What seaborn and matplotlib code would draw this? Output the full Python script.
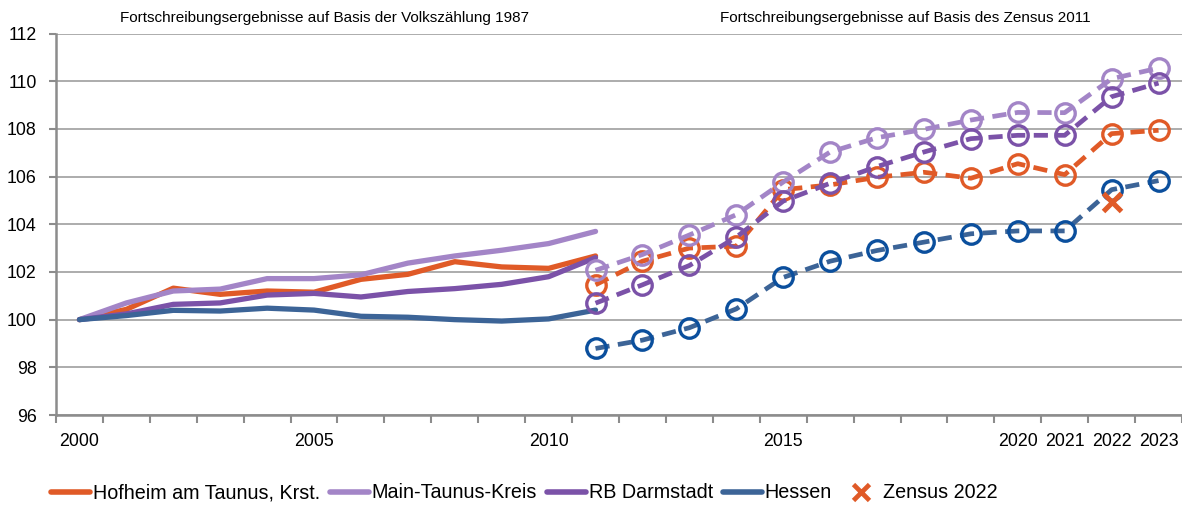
import numpy as np
import pandas as pd
import matplotlib
matplotlib.use("Agg")
import matplotlib.pyplot as plt
import seaborn as sns
from matplotlib.lines import Line2D

### Daten (Index 2000 = 100)
jahre_alt = list(range(2000, 2012))   # Basis Volkszählung 1987
jahre_neu = list(range(2011, 2024))   # Basis Zensus 2011

hofheim_alt = [100.0, 100.43, 101.32, 101.06, 101.2, 101.15, 101.69, 101.9, 102.43, 102.21, 102.15, 102.67]
mtk_alt = [100.0, 100.7, 101.2, 101.28, 101.72, 101.72, 101.88, 102.37, 102.67, 102.91, 103.19, 103.7]
rb_alt = [100.0, 100.24, 100.64, 100.7, 101.03, 101.1, 100.95, 101.18, 101.3, 101.48, 101.8, 102.6]
hessen_alt = [100.0, 100.17, 100.39, 100.36, 100.48, 100.4, 100.14, 100.1, 100.0, 99.94, 100.03, 100.4]

hofheim_neu = [101.46, 102.45, 103.0, 103.08, 105.45, 105.65, 105.97, 106.18, 105.93, 106.54, 106.08, 107.8, 107.94]
mtk_neu = [102.07, 102.73, 103.55, 104.4, 105.77, 107.03, 107.63, 107.98, 108.37, 108.69, 108.68, 110.1, 110.55]
rb_neu = [100.69, 101.46, 102.27, 103.46, 104.97, 105.72, 106.42, 107.03, 107.59, 107.73, 107.73, 109.35, 109.92]
hessen_neu = [98.79, 99.14, 99.66, 100.45, 101.77, 102.45, 102.9, 103.25, 103.6, 103.72, 103.72, 105.45, 105.83]

zensus_jahr = [2022]
zensus_wert = [104.92]

namen = ["Hofheim am Taunus, Krst.", "Main-Taunus-Kreis", "RB Darmstadt", "Hessen"]
farben = ["#E05A27", "#A385C7", "#7B52A8", "#3C6497"]
farben_marker = ["#E05A27", "#A385C7", "#7B52A8", "#0B4F9D"]
x_labels = {2000: "2000", 2005: "2005", 2010: "2010", 2015: "2015",
            2020: "2020", 2021: "2021", 2022: "2022", 2023: "2023"}

### Stil
sns.set_theme(style = "white")
plt.rcParams["font.family"] = ["Liberation Sans", "DejaVu Sans"]
plt.rcParams["text.color"] = "black"
grau = "#8C8C8C"

fig = plt.figure(figsize = (11.82, 5.07), dpi = 100)
ax = fig.add_axes([56 / 1182, 1 - 415 / 507, 1 - 56 / 1182, (415 - 33.5) / 507])

reihen_alt = [hofheim_alt, mtk_alt, rb_alt, hessen_alt]
reihen_neu = [hofheim_neu, mtk_neu, rb_neu, hessen_neu]

# durchgezogene Linien (Volkszählung 1987)
for werte, farbe in zip(reihen_alt, farben):
    df = pd.DataFrame({"pos": np.array(jahre_alt) - 2000, "wert": werte})
    sns.lineplot(data = df, x = "pos", y = "wert", ax = ax, color = farbe, lw = 3.8,
                 solid_capstyle = "round", solid_joinstyle = "round", errorbar = None)

# gestrichelte Linien mit Kreisen (Zensus 2011)
for werte, farbe, mfarbe in zip(reihen_neu, farben, farben_marker):
    df = pd.DataFrame({"pos": np.array(jahre_neu) - 2000, "wert": werte})
    sns.lineplot(data = df, x = "pos", y = "wert", ax = ax, color = farbe, lw = 3.4,
                 linestyle = (0, (3.0, 1.8)), marker = "o", markersize = 14,
                 markerfacecolor = "none", markeredgecolor = mfarbe, markeredgewidth = 2.4,
                 errorbar = None)

# Zensus 2022
ax.plot(np.array(zensus_jahr) - 2000, zensus_wert, ls = "none", marker = "x", markersize = 13,
        markeredgewidth = 3.6, color = "#E05A27", zorder = 5)

### Achsen
ax.set_xlim(-0.5, 23.5)
ax.set_ylim(96, 112)
ax.set_yticks(range(96, 113, 2))
ax.set_xticks([j - 2000 for j in x_labels])
ax.set_xticklabels(list(x_labels.values()))
ax.set_xticks(np.arange(-0.5, 24, 1), minor = True)
ax.tick_params(axis = "x", which = "major", length = 0, pad = 13, labelsize = 12.8, labelcolor = "black")
ax.tick_params(axis = "x", which = "minor", length = 6, width = 1.5, color = grau, direction = "out",
               bottom = True)
ax.tick_params(axis = "y", length = 5, width = 1.5, color = grau, direction = "out", pad = 9,
               labelsize = 12.8, labelcolor = "black", left = True)
ax.set_xlabel("")
ax.set_ylabel("")
ax.grid(axis = "y", color = "#A6A6A6", lw = 1.3)
ax.grid(axis = "x", visible = False)
ax.set_axisbelow(True)
for s in ["top", "right"]:
    ax.spines[s].set_visible(False)
for s in ["left", "bottom"]:
    ax.spines[s].set_color(grau)
    ax.spines[s].set_linewidth(1.8)

### Überschriften
fig.text(325 / 1182, 1 - 18 / 507, "Fortschreibungsergebnisse auf Basis der Volkszählung 1987",
         ha = "center", va = "center", fontsize = 11, color = "black")
fig.text(905 / 1182, 1 - 18 / 507, "Fortschreibungsergebnisse auf Basis des Zensus 2011",
         ha = "center", va = "center", fontsize = 11, color = "black")

### Legende
handles = [Line2D([], [], color = f, lw = 4) for f in farben]
handles.append(Line2D([], [], ls = "none", marker = "x", markersize = 11, markeredgewidth = 3.4,
                      color = "#E05A27"))
leg = fig.legend(handles, namen + ["Zensus 2022"], loc = "center left", bbox_to_anchor = (0.028, 1 - 493 / 507),
                 ncol = 5, frameon = False, fontsize = 14.2, handlelength = 2.0, handletextpad = 0.12,
                 columnspacing = 0.5)
for t in leg.get_texts():
    t.set_color("black")

plt.savefig("out.png", dpi = 100)
